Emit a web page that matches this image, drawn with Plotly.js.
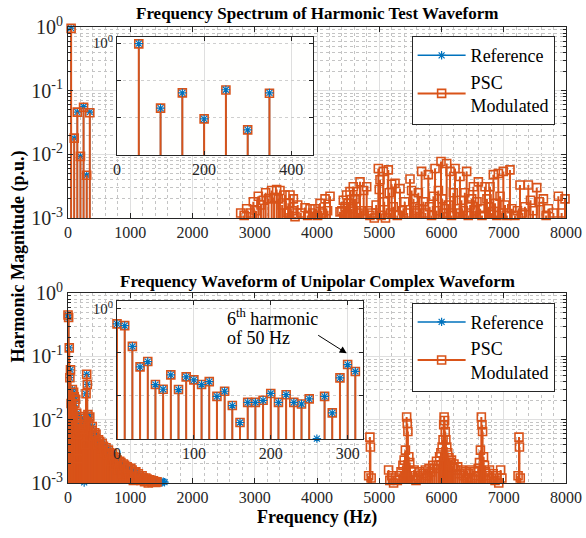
<!DOCTYPE html>
<html>
<head>
<meta charset="utf-8">
<script src="https://cdn.plot.ly/plotly-3.0.1.min.js"></script>
<style>html,body{margin:0;padding:0;background:#fff;}#chart{width:586px;height:538px;}</style>
</head>
<body>
<div id="chart"></div>
<script>
// ---------------- DATA ----------------
// Top: Harmonic test waveform
const topHarmF   = [50, 100, 150, 200, 250, 300, 350];
const topRefMag  = [0.96, 0.018, 0.046, 0.0093, 0.056, 0.0047, 0.046];
const topPscMag  = [0.95, 0.018, 0.046, 0.0093, 0.055, 0.0047, 0.045];
const topSideF   = [2774, 2830, 2870, 2930, 2977, 3020, 3057, 3100, 3140, 3175, 3220, 3272, 3310, 3352, 3380, 3405, 3440, 3486, 3520, 3540, 3566, 3600, 3620, 3647, 3690, 3740, 3807, 3850, 3888, 3930, 3968, 4010, 4048, 4090, 4129, 4170, 4209,
                    4370, 4400, 4423, 4450, 4476, 4500, 4530, 4560, 4583, 4610, 4637, 4660, 4691, 4717, 4750, 4798, 4819, 4850, 4880, 4920, 4950, 4985, 5000, 5012, 5030, 5065, 5080, 5100, 5145, 5160, 5180, 5199, 5225, 5253, 5290, 5333, 5370, 5410, 5450, 5494, 5520, 5550, 5580, 5600, 5628, 5650, 5681, 5710, 5740, 5788, 5810, 5840, 5870, 5896, 5920, 5950, 5992, 6010, 6030, 6050, 6083, 6110, 6137, 6160, 6190, 6217, 6240, 6270, 6297, 6320, 6350, 6375, 6404, 6430, 6460, 6485, 6512, 6540, 6570, 6592, 6620, 6650, 6699, 6730, 6760, 6779, 6805, 6833, 6860, 6890, 6913, 6940, 6970, 6993, 7020, 7050, 7100, 7130, 7180, 7220, 7261, 7300, 7340, 7395, 7430, 7470, 7530, 7570, 7637, 7680, 7717, 7797, 7877, 7930, 7984];
const topSideMag = [0.0012, 0.0011, 0.0014, 0.0012, 0.0018, 0.0013, 0.0022, 0.0016, 0.0019, 0.0025, 0.0020, 0.0027, 0.0021, 0.0028, 0.0020, 0.0027, 0.0016, 0.0023, 0.0012, 0.0017, 0.0023, 0.0013, 0.0020, 0.00105, 0.0016, 0.0012, 0.00145, 0.0011, 0.0014, 0.0012, 0.0014, 0.0011, 0.0017, 0.0012, 0.0020, 0.0013, 0.0022,
                    0.00125, 0.0013, 0.0019, 0.0015, 0.0023, 0.0017, 0.0026, 0.0014, 0.0031, 0.0020, 0.0026, 0.0012, 0.0037, 0.0013, 0.0027, 0.0031, 0.0013, 0.0011, 0.0012, 0.0010, 0.0016, 0.0060, 0.0028, 0.0040, 0.0011, 0.0054, 0.0018, 0.0010, 0.0057, 0.0025, 0.0012, 0.0034, 0.0015, 0.0035, 0.0011, 0.0029, 0.0013, 0.0018, 0.0012, 0.0041, 0.0027, 0.0020, 0.0013, 0.0012, 0.0025, 0.0014, 0.0054, 0.0018, 0.0012, 0.0048, 0.0015, 0.0011, 0.0022, 0.0060, 0.0013, 0.0027, 0.0077, 0.0020, 0.0012, 0.0014, 0.0072, 0.0016, 0.0054, 0.0011, 0.0025, 0.0060, 0.0014, 0.0012, 0.0045, 0.0019, 0.0013, 0.0025, 0.0054, 0.0011, 0.0016, 0.0020, 0.0031, 0.0013, 0.0018, 0.0037, 0.0014, 0.0011, 0.0031, 0.0020, 0.0015, 0.0031, 0.0012, 0.0048, 0.0017, 0.0011, 0.0050, 0.0022, 0.0012, 0.0054, 0.0016, 0.0011, 0.0057, 0.0014, 0.0011, 0.0013, 0.0033, 0.0012, 0.0015, 0.0033, 0.0019, 0.0013, 0.0030, 0.0018, 0.0020, 0.0011, 0.0014, 0.0012, 0.0022, 0.0012, 0.0020];

// Bottom: Unipolar complex waveform
const botLowF    = [0, 10, 20, 30, 40, 50, 60, 70, 80, 90, 100, 110, 120, 130, 140, 150, 160, 170, 180, 190, 200, 210, 220, 230, 240, 250, 260, 270, 280, 290, 300, 310];
const botRefLow  = [0.45, 0.41, 0.136, 0.046, 0.061, 0.018, 0.014, 0.030, 0.0138, 0.027, 0.023, 0.018, 0.021, 0.0096, 0.0126, 0.0059, 0.0024, 0.0070, 0.0070, 0.0078, 0.0112, 0.0070, 0.0105, 0.0070, 0.0064, 0.0084, 0.00102, 0.0096, 0.0040, 0.0256, 0.052, 0.036];
const botPscLow  = [0.45, 0.41, 0.136, 0.046, 0.061, 0.018, 0.014, 0.030, 0.0138, 0.027, 0.023, 0.018, 0.021, 0.0096, 0.0126, 0.0059, 0.0024, 0.0070, 0.0070, 0.0078, 0.0112, 0.0070, 0.0105, 0.0070, 0.0064, 0.0084, null, 0.0096, 0.0040, 0.0256, 0.052, 0.036];
const botMidF    = [320, 330, 350, 370, 390, 410, 430, 450, 470, 490, 510, 530, 550, 570, 590, 610, 630, 650, 670, 690, 710, 730, 750, 770, 790, 810, 830, 850, 870, 890, 910, 930, 950, 970, 990, 1010, 1030, 1050, 1070, 1090, 1110, 1130, 1150, 1170, 1190, 1210, 1230, 1250, 1270, 1290, 1310, 1330, 1350, 1370, 1390, 1410, 1430, 1450, 1470, 1490, 1510, 1530, 1550];
const botRefMid  = [0.012, 0.0085, 0.011, 0.0068, 0.0078, 0.0055, 0.0062, 0.0058, 0.0040, 0.0048, 0.0045, 0.0033, 0.0042, 0.0038, 0.0030, 0.0036, 0.0028, 0.0033, 0.0030, 0.0022, 0.0029, 0.0026, 0.0019, 0.0025, 0.0023, 0.0016, 0.0022, 0.0021, 0.0014, 0.0020, 0.0019, 0.0013, 0.0018, 0.0017, 0.0012, 0.0017, 0.0016, 0.0011, 0.0015, 0.0015, 0.0012, 0.0014, 0.0013, 0.0011, 0.0013, 0.0012, 0.00105, 0.0012, 0.00115, 0.0010, 0.00112, 0.0011, 0.00103, 0.00108, 0.00105, 0.00102, 0.00104, 0.00103, 0.00101, 0.00104, 0.00102, 0.00105, 0.00103];
const botPscMid  = [0.012, 0.0085, 0.011, 0.0068, 0.0078, 0.0055, 0.0062, 0.0058, 0.0040, 0.0048, 0.0045, 0.0033, 0.0042, 0.0038, 0.0030, 0.0036, 0.0028, 0.0033, 0.0030, 0.0022, 0.0029, 0.0026, 0.0019, 0.0025, 0.0023, 0.0016, 0.0022, 0.0021, 0.0014, 0.0020, 0.0019, 0.0013, 0.0018, 0.0017, 0.0012, 0.0017, 0.0016, 0.0011, 0.0015, 0.0015, 0.0012, 0.0014, 0.0013, 0.0011, 0.0013, 0.0012, 0.00105, 0.0012, 0.00115, 0.0010, 0.00112, 0.0011, 0.00103, 0.00108, 0.00105, 0.00102, 0.00104, null, null, null, null, null, null];
const botSideF   = [4830, 4850, 4858, 4870, 5150, 5170, 5200, 5230, 5260, 5290, 5320, 5350, 5380, 5400, 5420, 5440, 5450, 5460, 5475, 5490, 5510, 5530, 5560, 5590, 5620, 5650, 5680, 5710, 5740, 5770, 5800, 5830, 5860, 5890, 5920, 5950, 5970, 5990, 6010, 6025, 6035, 6042, 6050, 6060, 6070, 6085, 6100, 6120, 6140, 6160, 6180, 6200, 6230, 6260, 6290, 6320, 6350, 6380, 6410, 6440, 6470, 6500, 6530, 6560, 6590, 6610, 6625, 6640, 6650, 6660, 6675, 6690, 6710, 6740, 6770, 6800, 6830, 6860, 6890, 6920, 6950, 6970, 7230, 7245, 7252, 7265];
const botSideMag = [0.0013, 0.0053, 0.0037, 0.0012, 0.0016, 0.0011, 0.0013, 0.0010, 0.0012, 0.0011, 0.0013, 0.0015, 0.0019, 0.0023, 0.0033, 0.011, 0.0087, 0.0065, 0.0026, 0.0021, 0.0015, 0.0013, 0.0016, 0.0011, 0.0013, 0.0015, 0.0012, 0.0014, 0.0016, 0.0013, 0.0017, 0.0015, 0.0019, 0.0017, 0.0022, 0.0019, 0.0026, 0.0030, 0.0037, 0.0048, 0.0083, 0.011, 0.0097, 0.0065, 0.0048, 0.0037, 0.0030, 0.0025, 0.0021, 0.0023, 0.0018, 0.0020, 0.0016, 0.0018, 0.0014, 0.0016, 0.0013, 0.0015, 0.0012, 0.0014, 0.0016, 0.0012, 0.0015, 0.0013, 0.0017, 0.0021, 0.0033, 0.011, 0.0083, 0.0065, 0.0026, 0.0019, 0.0015, 0.0013, 0.0016, 0.0012, 0.0014, 0.0011, 0.0013, 0.0010, 0.0016, 0.0012, 0.0013, 0.0053, 0.0037, 0.0012];

const seriesNames = ['Reference', 'PSC<br>Modulated'];
const freqTicks   = [0, 1000, 2000, 3000, 4000, 5000, 6000, 7000, 8000];
const decadeVals  = [0.001, 0.01, 0.1, 1];
const decadeText  = ['10<sup>-3</sup>', '10<sup>-2</sup>', '10<sup>-1</sup>', '10<sup>0</sup>'];
const insetText   = ['', '', '', '10<sup>0</sup>'];
const topInsetTicks = [0, 200, 400];
const botInsetTicks = [0, 100, 200, 300];

// ---------------- STYLE ----------------
const BLUE = '#0072BD', ORANGE = '#D95319', AX = '#262626';
const FONT = 'Liberation Serif, Times New Roman, serif';
const FLOOR = 1e-7;

const minorVals = [];
for (let d = -3; d <= -1; d++) for (let k = 2; k <= 9; k++) minorVals.push(k * Math.pow(10, d));

function stemTrace(f, v, color, width, xa, ya) {
  const xs = [], ys = [];
  for (let i = 0; i < f.length; i++) {
    if (v[i] === null || v[i] === undefined) continue;
    xs.push(f[i], f[i], null); ys.push(FLOOR, v[i], null);
  }
  return {x: xs, y: ys, xaxis: xa, yaxis: ya, type: 'scatter', mode: 'lines',
          line: {color: color, width: width}, showlegend: false, hoverinfo: 'skip'};
}
function markTrace(f, v, kind, xa, ya, legendName, showLeg) {
  const xs = [], ys = [];
  for (let i = 0; i < f.length; i++) {
    if (v[i] === null || v[i] === undefined) continue;
    xs.push(f[i], null); ys.push(v[i], null);
  }
  const isRef = kind === 'ref';
  return {x: xs, y: ys, xaxis: xa, yaxis: ya, type: 'scatter', mode: 'lines+markers',
          connectgaps: false, cliponaxis: false,
          name: isRef ? seriesNames[0] : seriesNames[1],
          legend: legendName, legendrank: isRef ? 1 : 2, showlegend: showLeg,
          line: {color: isRef ? BLUE : ORANGE, width: isRef ? 1.5 : 2},
          marker: isRef ? {symbol: 'asterisk-open', size: 7, color: BLUE, line: {color: BLUE, width: 1.2}}
                        : {symbol: 'square-open', size: 8, color: ORANGE, line: {color: ORANGE, width: 1.6}}};
}

const topPscAllF = topHarmF.concat(topSideF);
const topPscAllM = topPscMag.concat(topSideMag);
const botRefAllF = botLowF.concat(botMidF);
const botRefAllM = botRefLow.concat(botRefMid);
const botPscAllF = botLowF.concat(botMidF, botSideF);
const botPscAllM = botPscLow.concat(botPscMid, botSideMag);

// order: reference stems + markers first, PSC stems + markers drawn over them
const data = [
  // top main
  stemTrace(topHarmF, topRefMag, BLUE, 1.5, 'x', 'y'),
  markTrace(topHarmF, topRefMag, 'ref', 'x', 'y', 'legend', true),
  stemTrace(topPscAllF, topPscAllM, ORANGE, 2, 'x', 'y'),
  markTrace(topPscAllF, topPscAllM, 'psc', 'x', 'y', 'legend', true),
  // top inset
  stemTrace(topHarmF, topRefMag, BLUE, 1.5, 'x2', 'y2'),
  stemTrace(topHarmF, topPscMag, ORANGE, 2, 'x2', 'y2'),
  markTrace(topHarmF, topPscMag, 'psc', 'x2', 'y2', 'legend', false),
  markTrace(topHarmF, topRefMag, 'ref', 'x2', 'y2', 'legend', false),
  // bottom main
  stemTrace(botRefAllF, botRefAllM, BLUE, 1.5, 'x3', 'y3'),
  markTrace(botRefAllF, botRefAllM, 'ref', 'x3', 'y3', 'legend2', true),
  stemTrace(botPscAllF, botPscAllM, ORANGE, 2, 'x3', 'y3'),
  markTrace(botPscAllF, botPscAllM, 'psc', 'x3', 'y3', 'legend2', true),
  // bottom inset
  stemTrace(botLowF, botRefLow, BLUE, 1.5, 'x4', 'y4'),
  stemTrace(botLowF, botPscLow, ORANGE, 2, 'x4', 'y4'),
  markTrace(botLowF, botPscLow, 'psc', 'x4', 'y4', 'legend2', false),
  markTrace(botLowF, botRefLow, 'ref', 'x4', 'y4', 'legend2', false)
];

function mainX(anchor) {
  return {domain: [0, 1], anchor: anchor, range: [0, 8000], tickmode: 'array', tickvals: freqTicks,
          ticks: 'inside', ticklen: 5, tickcolor: AX, mirror: 'allticks', showline: true, linecolor: AX, linewidth: 1,
          showgrid: true, gridcolor: '#DFDFDF', zeroline: false,
          minor: {dtick: 200, ticks: '', showgrid: true, gridcolor: '#C4C4C4', griddash: 'dot', gridwidth: 1},
          tickfont: {family: FONT, size: 16, color: AX}};
}
function mainY(anchor, dom) {
  return {domain: dom, anchor: anchor, type: 'log', range: [-3, 0], tickmode: 'array',
          tickvals: decadeVals, ticktext: decadeText,
          ticks: 'inside', ticklen: 5, tickcolor: AX, mirror: 'allticks', showline: true, linecolor: AX, linewidth: 1,
          showgrid: true, gridcolor: '#DFDFDF', zeroline: false,
          minor: {tickmode: 'array', tickvals: minorVals, ticks: 'inside', ticklen: 3, tickcolor: AX,
                  showgrid: true, gridcolor: '#C4C4C4', griddash: 'dot', gridwidth: 1},
          tickfont: {family: FONT, size: 20, color: AX}};
}
function insetX(anchor, dom, rng, tv) {
  return {domain: dom, anchor: anchor, range: rng, tickmode: 'array', tickvals: tv,
          ticks: 'inside', ticklen: 4, tickcolor: AX, mirror: 'allticks', showline: true, linecolor: AX, linewidth: 1,
          showgrid: true, gridcolor: '#DFDFDF', zeroline: false,
          tickfont: {family: FONT, size: 16, color: AX}};
}
function insetY(anchor, dom, rng) {
  return {domain: dom, anchor: anchor, type: 'log', range: rng, tickmode: 'array',
          tickvals: decadeVals, ticktext: insetText,
          ticks: 'inside', ticklen: 4, tickcolor: AX, mirror: 'allticks', showline: true, linecolor: AX, linewidth: 1,
          showgrid: true, gridcolor: '#CFCFCF', griddash: 'dot', zeroline: false,
          tickfont: {family: FONT, size: 15, color: AX}};
}

const legendBase = {x: 0.690, xanchor: 'left', yanchor: 'top', bgcolor: '#ffffff', bordercolor: AX, borderwidth: 1,
                    font: {family: FONT, size: 18, color: '#000'}, itemwidth: 48, tracegroupgap: 0, traceorder: 'normal'};

const layout = {
  width: 586, height: 538,
  margin: {l: 68, r: 20, t: 27, b: 55, pad: 0},
  paper_bgcolor: '#ffffff', plot_bgcolor: '#fffffe',
  font: {family: FONT, color: AX},
  showlegend: true,
  xaxis: mainX('y'),
  yaxis: mainY('x', [0.5811, 1]),
  xaxis2: insetX('y2', [0.0984, 0.492], [0, 450], topInsetTicks),
  yaxis2: insetY('x2', [0.7193, 0.978], [-3, 0.16]),
  xaxis3: mainX('y3'),
  yaxis3: mainY('x3', [0, 0.4167]),
  xaxis4: insetX('y4', [0.0984, 0.5924], [0, 320], botInsetTicks),
  yaxis4: insetY('x4', [0.0965, 0.3991], [-3, 0.18]),
  legend: Object.assign({}, legendBase, {y: 0.980}),
  legend2: Object.assign({}, legendBase, {y: 0.3954}),
  annotations: [
    {text: '<b>Frequency Spectrum of Harmonic Test Waveform</b>', xref: 'paper', yref: 'paper', x: 0.5, y: 1.0307,
     xanchor: 'center', yanchor: 'middle', showarrow: false, font: {family: FONT, size: 17, color: '#000'}},
    {text: '<b>Frequency Waveform of Unipolar Complex Waveform</b>', xref: 'paper', yref: 'paper', x: 0.5, y: 0.4408,
     xanchor: 'center', yanchor: 'middle', showarrow: false, font: {family: FONT, size: 17, color: '#000'}},
    {text: '<b>Harmonic Magnitude (p.u.)</b>', xref: 'paper', yref: 'paper', x: -0.0994, y: 0.4978, textangle: -90,
     xanchor: 'center', yanchor: 'middle', showarrow: false, font: {family: FONT, size: 18, color: '#000'}},
    {text: '<b>Frequency (Hz)</b>', xref: 'paper', yref: 'paper', x: 0.5, y: -0.0746,
     xanchor: 'center', yanchor: 'middle', showarrow: false, font: {family: FONT, size: 18, color: '#000'}},
    {text: '6<sup>th</sup> harmonic', xref: 'paper', yref: 'paper', x: 0.3153, y: 0.3625,
     xanchor: 'left', yanchor: 'middle', showarrow: false, font: {family: FONT, size: 18, color: '#000'}},
    {text: 'of 50 Hz', xref: 'paper', yref: 'paper', x: 0.3153, y: 0.318,
     xanchor: 'left', yanchor: 'middle', showarrow: false, font: {family: FONT, size: 18, color: '#000'}},
    {text: '', xref: 'paper', yref: 'paper', x: 0.5596, y: 0.2844, ax: -30, ay: -19,
     showarrow: true, arrowhead: 2, arrowsize: 1.4, arrowwidth: 1, arrowcolor: '#000'}
  ]
};

Plotly.newPlot('chart', data, layout, {staticPlot: true, displayModeBar: false});
</script>
</body>
</html>
